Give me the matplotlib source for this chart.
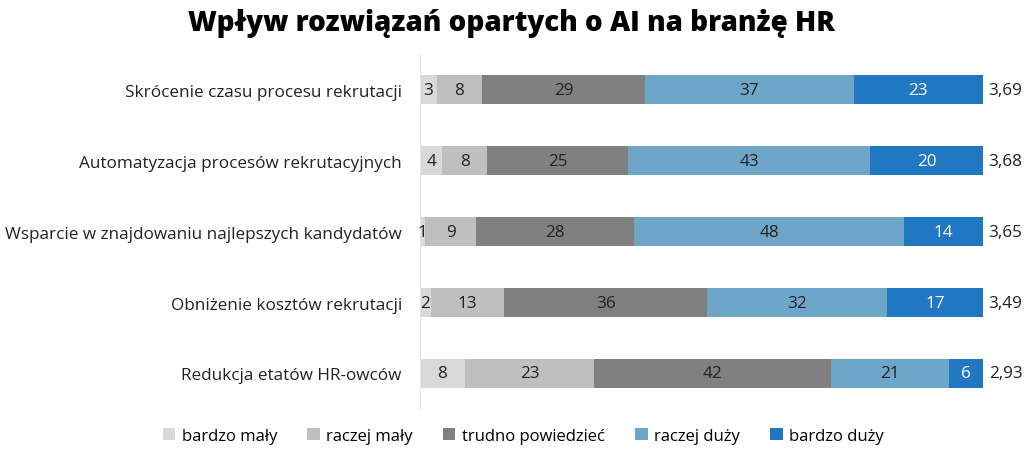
import matplotlib
matplotlib.use("Agg")
import matplotlib.pyplot as plt
from matplotlib.patches import Patch

plt.rcParams['font.family'] = ['Open Sans', 'DejaVu Sans']

categories = ["Skrócenie czasu procesu rekrutacji",
              "Automatyzacja procesów rekrutacyjnych",
              "Wsparcie w znajdowaniu najlepszych kandydatów",
              "Obniżenie kosztów rekrutacji",
              "Redukcja etatów HR-owców"]
series_names = ["bardzo mały", "raczej mały", "trudno powiedzieć", "raczej duży", "bardzo duży"]
bardzo_maly = [3, 4, 1, 2, 8]
raczej_maly = [8, 8, 9, 13, 23]
trudno = [29, 25, 28, 36, 42]
raczej_duzy = [37, 43, 48, 32, 21]
bardzo_duzy = [23, 20, 14, 17, 6]
means = ["3,69", "3,68", "3,65", "3,49", "2,93"]

series = [bardzo_maly, raczej_maly, trudno, raczej_duzy, bardzo_duzy]
colors = ["#d9d9d9", "#bfbfbf", "#808080", "#6ea6c9", "#1f78c1"]
text_colors = ["#222222", "#222222", "#222222", "#222222", "white"]

fig = plt.figure(figsize=(10.24, 4.52), dpi=100)
ax = fig.add_axes([0.41, 0.093, 0.55, 0.785])

y = list(range(len(categories)))
left = [0] * len(categories)
for vals, col, tc in zip(series, colors, text_colors):
    ax.barh(y, vals, left=left, color=col, height=0.4, edgecolor='none')
    for i, (v, l) in enumerate(zip(vals, left)):
        ax.text(l + v / 2, i, str(v), ha='center', va='center', fontsize=12.3, color=tc)
    left = [a + b for a, b in zip(left, vals)]

for i, m in enumerate(means):
    ax.text(101, i, m, ha='left', va='center', fontsize=12.3, color='#222222')

ax.set_xlim(0, 100)
ax.set_ylim(len(categories) - 0.5, -0.5)
ax.set_yticks(y)
ax.set_yticklabels(categories, fontsize=12.35, color='#222222')
ax.tick_params(axis='y', length=0, pad=13)
ax.set_xticks([])
for s in ['top', 'right', 'bottom']:
    ax.spines[s].set_visible(False)
ax.spines['left'].set_color('#e6e6e6')

fig.text(0.5, 0.948, "Wpływ rozwiązań opartych o AI na branżę HR", ha='center', va='center',
         fontsize=20, fontweight='heavy')

handles = [Patch(facecolor=c, edgecolor='none') for c in colors]
fig.legend(handles, series_names, loc='center', bbox_to_anchor=(0.511, 0.033), ncol=5,
           frameon=False, fontsize=12.0, handlelength=0.75, handleheight=0.75,
           handletextpad=0.4, columnspacing=1.8)

fig.savefig("out.png", dpi=100)
